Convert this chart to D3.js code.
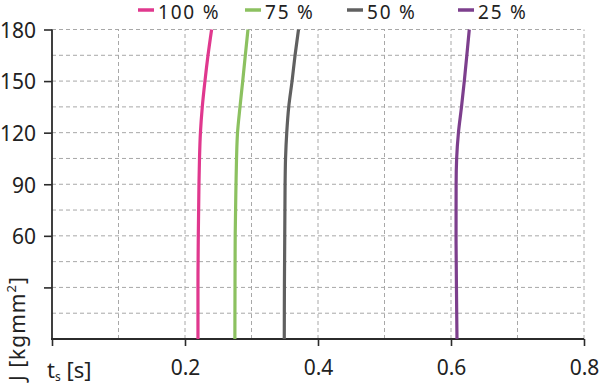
<!DOCTYPE html>
<html>
<head>
<meta charset="utf-8">
<script src="https://cdn.jsdelivr.net/npm/d3@7"></script>
<style>
  body { margin: 0; background: #fff; }
  svg { display: block; font-family: 'Noto Sans', sans-serif; }
</style>
</head>
<body>
<svg width="600" height="385"></svg>
<script>
// J values (y) shared by all series
const jValues = [0, 30, 60, 90, 105, 120, 135, 150, 165, 180];

// t_s values per load level
const load100 = [0.2195, 0.2195, 0.2200, 0.2210, 0.2218, 0.2232, 0.2260, 0.2300, 0.2346, 0.2400];
const load75  = [0.2750, 0.2752, 0.2755, 0.2767, 0.2775, 0.2790, 0.2827, 0.2868, 0.2907, 0.2947];
const load50  = [0.3493, 0.3495, 0.3500, 0.3505, 0.3512, 0.3530, 0.3560, 0.3610, 0.3655, 0.3707];
const load25  = [0.6090, 0.6082, 0.6076, 0.6077, 0.6085, 0.6112, 0.6158, 0.6200, 0.6238, 0.6275];

const seriesNames = ['100 %', '75 %', '50 %', '25 %'];
const seriesColors = ['#e0388e', '#8cc160', '#606060', '#7d3f8d'];
const seriesValues = [load100, load75, load50, load25];

const xTicks = [0.2, 0.4, 0.6, 0.8];
const yTicks = [60, 90, 120, 150, 180];

const svg = d3.select('svg');
const margin = { left: 52, right: 16, top: 29.5, bottom: 46 };
const width = +svg.attr('width');
const height = +svg.attr('height');

const x = d3.scaleLinear().domain([0, 0.8]).range([margin.left, width - margin.right]);
const y = d3.scaleLinear().domain([0, 180]).range([height - margin.bottom, margin.top]);

// dashed grid
const grid = svg.append('g')
  .attr('stroke', '#a8a8a8')
  .attr('stroke-width', 1)
  .attr('stroke-dasharray', '4,3');

grid.selectAll('.vg').data(d3.range(1, 9).map(i => i / 10))
  .enter().append('line')
  .attr('x1', d => x(d)).attr('x2', d => x(d))
  .attr('y1', y(0)).attr('y2', y(180));

grid.selectAll('.hg').data(d3.range(1, 13).map(i => i * 15))
  .enter().append('line')
  .attr('y1', d => y(d)).attr('y2', d => y(d))
  .attr('x1', x(0)).attr('x2', x(0.8));

// axes
const xAxis = d3.axisBottom(x)
  .tickValues([0].concat(xTicks))
  .tickSize(7)
  .tickPadding(14)
  .tickFormat(d => d === 0 ? '' : d3.format('.1f')(d));

const yAxis = d3.axisLeft(y)
  .tickValues([30].concat(yTicks))
  .tickSize(8)
  .tickPadding(8)
  .tickFormat(d => d === 30 ? '' : d);

const xAxisG = svg.append('g')
  .attr('transform', `translate(0,${y(0)})`)
  .call(xAxis);

const yAxisG = svg.append('g')
  .attr('transform', `translate(${x(0)},0)`)
  .call(yAxis);

[xAxisG, yAxisG].forEach(g => {
  g.selectAll('.domain').remove();
  g.selectAll('line').attr('stroke', '#2b2b2b').attr('stroke-width', 1.6);
  g.selectAll('text')
    .attr('fill', '#222')
    .attr('font-size', 21)
    .attr('font-family', 'Noto Sans');
});
yAxisG.selectAll('text').attr('dy', '0.37em');
xAxisG.selectAll('text').attr('dy', '0.71em');

// axis lines
svg.append('line')
  .attr('x1', x(0) - 1).attr('x2', x(0.8))
  .attr('y1', y(0)).attr('y2', y(0))
  .attr('stroke', '#2b2b2b').attr('stroke-width', 1.8);
svg.append('line')
  .attr('x1', x(0)).attr('x2', x(0))
  .attr('y1', y(0)).attr('y2', y(180))
  .attr('stroke', '#2b2b2b').attr('stroke-width', 1.8);

// curves
const line = d3.line()
  .x(d => x(d[0]))
  .y(d => y(d[1]))
  .curve(d3.curveMonotoneY);

seriesValues.forEach((vals, i) => {
  svg.append('path')
    .datum(vals.map((v, k) => [v, jValues[k]]))
    .attr('fill', 'none')
    .attr('stroke', seriesColors[i])
    .attr('stroke-width', 3.2)
    .attr('d', line);
});

// axis titles
const xTitle = svg.append('text')
  .attr('x', 47).attr('y', 378)
  .attr('font-size', 22)
  .attr('fill', '#222');
xTitle.append('tspan').text('t');
xTitle.append('tspan').attr('font-size', 12).attr('dy', 3).text('s');
xTitle.append('tspan').attr('dy', -3).text(' [s]');

const yTitle = svg.append('text')
  .attr('transform', 'translate(25,381) rotate(-90)')
  .attr('font-size', 21)
  .attr('letter-spacing', 1)
  .attr('fill', '#222');
yTitle.append('tspan').text('J [kgmm');
yTitle.append('tspan').attr('font-size', 13).attr('dy', -9).text('2');
yTitle.append('tspan').attr('dy', 9).text(']');

// legend
const legendX = [138, 245, 347, 458];
const legend = svg.append('g');
seriesNames.forEach((name, i) => {
  legend.append('line')
    .attr('x1', legendX[i]).attr('x2', legendX[i] + 16)
    .attr('y1', 10).attr('y2', 10)
    .attr('stroke', seriesColors[i])
    .attr('stroke-width', 3.5);
  legend.append('text')
    .attr('x', legendX[i] + 20)
    .attr('y', 18.5)
    .attr('font-size', 19)
    .attr('letter-spacing', 1.8)
    .attr('fill', '#222')
    .text(name);
});
</script>
</body>
</html>
